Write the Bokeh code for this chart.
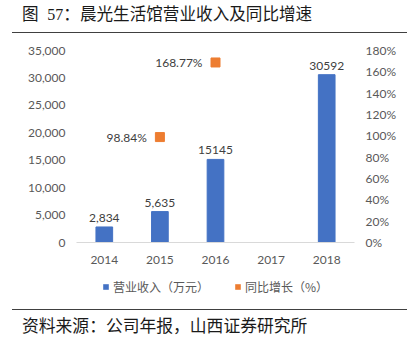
from bokeh.plotting import figure
from bokeh.layouts import column
from bokeh.models import (ColumnDataSource, LinearAxis, Range1d, FactorRange, LabelSet,
                          Legend, LegendItem, NumeralTickFormatter, FixedTicker,
                          PrintfTickFormatter, Div)
from bokeh.core.properties import value
from bokeh.embed import file_html
from bokeh.resources import INLINE

# ---- data ----
years = ["2014", "2015", "2016", "2017", "2018"]
bar_years = ["2014", "2015", "2016", "2018"]
revenue = [2834, 5635, 15145, 30592]
revenue_labels = ["2,834", "5,635", "15145", "30592"]
growth_years = ["2015", "2016"]
growth = [98.84, 168.77]
growth_labels = ["98.84%", "168.77%"]
left_ticks = [0, 5000, 10000, 15000, 20000, 25000, 30000, 35000]
right_ticks = [0, 20, 40, 60, 80, 100, 120, 140, 160, 180]
title_prefix = "图"
title_number = "57"
title_rest = "：晨光生活馆营业收入及同比增速"
source_text = "资料来源：公司年报，山西证券研究所"
legend_labels = ["营业收入（万元）", "同比增长（%）"]

BLUE = "#4472C4"
ORANGE = "#ED7D31"
NUM_FONT = "Lato"
CJK_FONT = "Noto Sans CJK SC"
TXT = "#595959"

p = figure(width=407, height=237, output_backend="svg", toolbar_location=None,
           x_range=FactorRange(*years, range_padding=0),
           y_range=Range1d(0, 35000),
           min_border_left=76, min_border_right=53, min_border_top=17, min_border_bottom=28)
p.extra_y_ranges = {"pct": Range1d(0, 180)}
p.outline_line_color = None
p.grid.visible = False
p.background_fill_color = "white"
p.border_fill_color = "white"

bar_src = ColumnDataSource(dict(year=bar_years, rev=revenue, lab=revenue_labels))
g_src = ColumnDataSource(dict(year=growth_years, g=growth, lab=growth_labels))

bars = p.vbar(x="year", top="rev", width=0.3, source=bar_src, fill_color=BLUE, line_color=BLUE)
sq = p.scatter(x="year", y="g", y_range_name="pct", marker="square", size=9,
               fill_color=ORANGE, line_color=ORANGE, source=g_src)

p.add_layout(LabelSet(x="year", y="rev", text="lab", source=bar_src, y_offset=5,
                      text_align="center", text_baseline="bottom",
                      text_font=value(NUM_FONT), text_font_size="12px", text_color="#404040"))
p.add_layout(LabelSet(x="year", y="g", text="lab", source=g_src, y_range_name="pct",
                      x_offset=-13, text_align="right", text_baseline="middle",
                      text_font=value(NUM_FONT), text_font_size="12px", text_color="#404040"))

# axes
xa = p.xaxis[0]
xa.axis_line_color = "#D9D9D9"
xa.major_tick_line_color = None
xa.minor_tick_line_color = None
xa.major_tick_in = 0
xa.major_tick_out = 0
xa.major_label_standoff = 13
xa.major_label_text_font = NUM_FONT
xa.major_label_text_font_size = "12px"
xa.major_label_text_color = TXT

ya = p.yaxis[0]
ya.ticker = FixedTicker(ticks=left_ticks)
ya.formatter = NumeralTickFormatter(format="0,0")
ya.axis_line_color = None
ya.major_tick_line_color = None
ya.minor_tick_line_color = None
ya.major_tick_in = 0
ya.major_tick_out = 0
ya.major_label_standoff = 11
ya.major_label_text_font = NUM_FONT
ya.major_label_text_font_size = "12px"
ya.major_label_text_color = TXT

ra = LinearAxis(y_range_name="pct", ticker=FixedTicker(ticks=right_ticks),
                formatter=PrintfTickFormatter(format="%d%%"))
ra.axis_line_color = None
ra.major_tick_line_color = None
ra.minor_tick_line_color = None
ra.major_tick_in = 0
ra.major_tick_out = 0
ra.major_label_standoff = 11
ra.major_label_text_font = NUM_FONT
ra.major_label_text_font_size = "12px"
ra.major_label_text_color = TXT
p.add_layout(ra, "right")

# legend strip (its own small figure so that nothing is clipped); its proxy glyphs
# have zero width and no outline, so only the legend swatches show
lf = figure(width=407, height=39, output_backend="svg", toolbar_location=None,
            x_range=FactorRange(*years, range_padding=0), y_range=Range1d(-2, -1),
            x_axis_type=None, y_axis_type=None,
            min_border_left=0, min_border_right=0, min_border_top=0, min_border_bottom=0)
lf.outline_line_color = None
lf.grid.visible = False
lf.background_fill_color = "white"
lf.border_fill_color = "white"
lb = lf.vbar(x="year", top="rev", width=0, source=bar_src, fill_color=BLUE, line_color=None)
lo = lf.vbar(x="year", top="g", width=0, source=g_src, fill_color=ORANGE, line_color=None)
legend = Legend(items=[LegendItem(label=legend_labels[0], renderers=[lb]),
                       LegendItem(label=legend_labels[1], renderers=[lo])],
                orientation="horizontal", location=(26, 14),
                glyph_width=7, glyph_height=7, label_height=14, label_standoff=4,
                spacing=25, padding=0, margin=0, border_line_color=None,
                background_fill_alpha=0,
                label_text_font=CJK_FONT, label_text_font_size="12px", label_text_color=TXT)
lf.add_layout(legend, "center")

title_div = Div(width=407, height=33, margin=0, text=(
    '<div style="box-sizing:border-box;width:395px;height:33px;margin-left:12px;'
    'border-bottom:1px solid #404040;padding-left:10px;font-family:\'Noto Sans CJK SC\';'
    'font-size:16.6px;line-height:26px;color:#1a1a1a;white-space:nowrap;">'
    + title_prefix + ' <span style="font-family:\'Liberation Serif\';font-size:16px;margin-left:5px;">'
    + title_number + '</span>' + title_rest + '</div>'))
source_div = Div(width=407, height=38, margin=0, text=(
    '<div style="box-sizing:border-box;width:395px;height:38px;margin-left:12px;'
    'border-top:1px solid #404040;padding-left:10px;font-family:\'Noto Sans CJK SC\';'
    'font-size:16.8px;line-height:30px;color:#1a1a1a;white-space:nowrap;">'
    + source_text + '</div>'))
bar_div = Div(width=407, height=2, margin=0, text=(
    '<div style="width:407px;height:2px;background:#9a9a9a;"></div>'))

layout = column(title_div, p, lf, source_div, bar_div, spacing=0)

open("out.html", "w").write(file_html(layout, INLINE))
